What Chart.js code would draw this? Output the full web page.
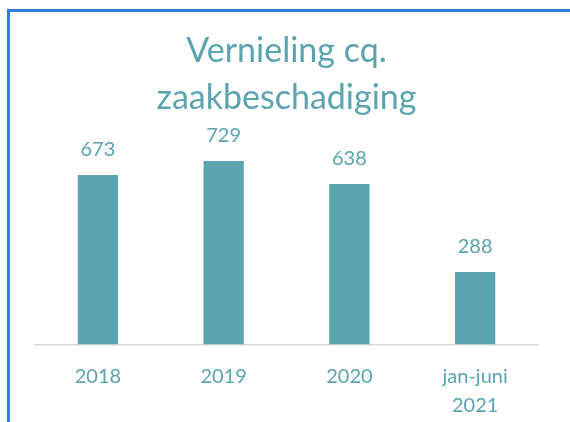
<!DOCTYPE html>
<html>
<head>
<meta charset="utf-8">
<script src="https://cdn.jsdelivr.net/npm/chart.js@4"></script>
<style>
  html, body { margin: 0; padding: 0; background: #fff; }
  #wrap { position: relative; width: 570px; height: 422px; overflow: hidden; }
  #frame { position: absolute; left: 7px; top: 9px; width: 600px; height: 500px;
           border-top: 3px solid #2F7ED8; border-left: 3px solid #2F7ED8; box-sizing: border-box; }
  canvas { position: absolute; left: 0; top: 0; }
</style>
</head>
<body>
<div id="wrap">
  <div id="frame"></div>
  <canvas id="c" width="570" height="422"></canvas>
</div>
<script>
const categories = ['2018', '2019', '2020', ['jan-juni', '2021']];
const values = [673, 729, 638, 288];
const titleLines = ['Vernieling cq.', 'zaakbeschadiging'];
const teal = '#5BA3AF';

const valueLabels = {
  id: 'valueLabels',
  afterDatasetsDraw(chart) {
    const ctx = chart.ctx;
    const meta = chart.getDatasetMeta(0);
    ctx.save();
    ctx.font = '20px Lato';
    ctx.fillStyle = teal;
    ctx.textAlign = 'center';
    ctx.textBaseline = 'alphabetic';
    meta.data.forEach((bar, i) => {
      ctx.fillText(String(values[i]), bar.x, bar.y - 19);
    });
    ctx.restore();
  }
};

new Chart(document.getElementById('c'), {
  type: 'bar',
  data: {
    labels: categories,
    datasets: [{
      data: values,
      backgroundColor: teal,
      borderWidth: 0,
      barPercentage: 0.32,
      categoryPercentage: 1
    }]
  },
  options: {
    responsive: false,
    animation: false,
    events: [],
    layout: { padding: { left: 35, right: 32, top: 0, bottom: 0 } },
    plugins: {
      legend: { display: false },
      tooltip: { enabled: false },
      title: {
        display: true,
        text: titleLines,
        color: teal,
        font: { family: 'Lato', size: 34, weight: 'normal', lineHeight: 47 / 34 },
        padding: { top: 27.5, bottom: 21.6 }
      }
    },
    scales: {
      x: {
        grid: { display: false, drawTicks: false },
        border: { display: true, color: '#D9D9D9', width: 1.5 },
        ticks: {
          color: teal,
          padding: 18,
          font: { family: 'Lato', size: 20, lineHeight: 1.45 }
        },
        afterFit(axis) { axis.height = 77.5; }
      },
      y: {
        display: false,
        min: 0,
        max: 800
      }
    }
  },
  plugins: [valueLabels]
});
</script>
</body>
</html>
